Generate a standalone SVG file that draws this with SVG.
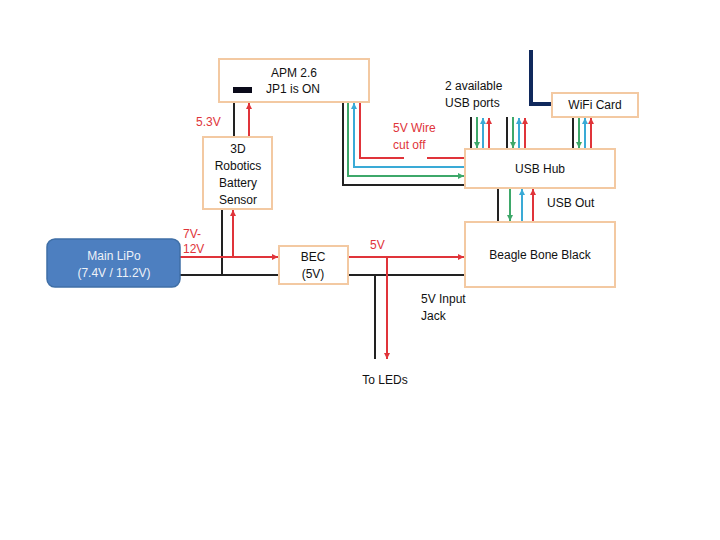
<svg xmlns="http://www.w3.org/2000/svg" width="720" height="540" viewBox="0 0 720 540">
<style>
.box{fill:#ffffff;stroke:#f3c9a2;stroke-width:2}
.t{font-family:"Liberation Sans",Arial,sans-serif;font-size:12px;fill:#111}
.r{font-family:"Liberation Sans",Arial,sans-serif;font-size:12px;fill:#e0343a}
.c{text-anchor:middle}
.k{stroke:#222;stroke-width:2;fill:none}
.rd{stroke:#e0343a;stroke-width:2;fill:none}
.gr{stroke:#3ea86a;stroke-width:2;fill:none}
.bl{stroke:#3aaad6;stroke-width:2;fill:none}
</style>
<defs>
<marker id="ar" viewBox="0 0 10 10" refX="10" refY="5" markerWidth="3" markerHeight="3" orient="auto"><path d="M0,0L10,5L0,10z" fill="#e0343a"/></marker>
<marker id="ag" viewBox="0 0 10 10" refX="10" refY="5" markerWidth="3" markerHeight="3" orient="auto"><path d="M0,0L10,5L0,10z" fill="#3ea86a"/></marker>
<marker id="ab" viewBox="0 0 10 10" refX="10" refY="5" markerWidth="3" markerHeight="3" orient="auto"><path d="M0,0L10,5L0,10z" fill="#3aaad6"/></marker>
</defs>
<rect width="720" height="540" fill="#ffffff"/>

<g id="connectors">
<path class="k" d="M234,102V137"/>
<path class="rd" d="M249,137V103" marker-end="url(#ar)"/>
<path class="k" d="M222,209V275"/>
<path class="rd" d="M233,257V210" marker-end="url(#ar)"/>
<path class="rd" d="M180,257H278" marker-end="url(#ar)"/>
<path class="k" d="M180,275H279"/>
<path class="rd" d="M348,257H464" marker-end="url(#ar)"/>
<path class="k" d="M348,275H465"/>
<path class="rd" d="M387,257V359" marker-end="url(#ar)"/>
<path class="k" d="M375,275V359"/>
<path class="k" d="M343,102V185H465"/>
<path class="gr" d="M348,102V176H464" marker-end="url(#ag)"/>
<path class="bl" d="M465,167H354V103" marker-end="url(#ab)"/>
<path class="rd" d="M360,102V158H404M427,158H465"/>
<path class="k" d="M471,117V149"/>
<path class="gr" d="M477,117V148" marker-end="url(#ag)"/>
<path class="bl" d="M483,149V118" marker-end="url(#ab)"/>
<path class="rd" d="M489,149V118" marker-end="url(#ar)"/>
<path class="k" d="M507,117V149"/>
<path class="gr" d="M513,117V148" marker-end="url(#ag)"/>
<path class="bl" d="M519,149V118" marker-end="url(#ab)"/>
<path class="rd" d="M525,149V118" marker-end="url(#ar)"/>
<path class="k" d="M573,117V149"/>
<path class="gr" d="M579,117V148" marker-end="url(#ag)"/>
<path class="bl" d="M585,149V118" marker-end="url(#ab)"/>
<path class="rd" d="M591,149V118" marker-end="url(#ar)"/>
<path class="k" d="M498,188V222"/>
<path class="gr" d="M510,188V221" marker-end="url(#ag)"/>
<path class="bl" d="M522,222V189" marker-end="url(#ab)"/>
<path class="rd" d="M533,222V189" marker-end="url(#ar)"/>
<path d="M531,50V104H552" fill="none" stroke="#10295c" stroke-width="4"/>
</g>

<g id="apm">
<rect class="box" x="219" y="59" width="150" height="43"/>
<rect x="233" y="87" width="19" height="6" fill="#0a0a1a"/>
<text class="t c" x="294" y="77">APM 2.6</text>
<text class="t c" x="293" y="93">JP1 is ON</text>
</g>

<g id="sensor">
<rect class="box" x="203" y="137" width="69" height="72"/>
<text class="t c" x="238" y="153">3D</text>
<text class="t c" x="238" y="170">Robotics</text>
<text class="t c" x="238" y="187">Battery</text>
<text class="t c" x="238" y="204">Sensor</text>
</g>

<g id="lipo">
<rect x="47" y="239" width="133" height="48" rx="8" fill="#4d7fc0" stroke="#3f6fa6" stroke-width="1.5"/>
<text class="t c" x="114" y="260" style="fill:#eef2f8">Main LiPo</text>
<text class="t c" x="114" y="277" style="fill:#eef2f8">(7.4V / 11.2V)</text>
</g>

<g id="bec">
<rect class="box" x="279" y="246" width="69" height="38"/>
<text class="t c" x="313" y="261">BEC</text>
<text class="t c" x="313" y="278">(5V)</text>
</g>

<g id="bbb">
<rect class="box" x="465" y="222" width="150" height="65"/>
<text class="t c" x="540" y="259">Beagle Bone Black</text>
</g>

<g id="usbhub">
<rect class="box" x="465" y="149" width="150" height="39"/>
<text class="t c" x="540" y="173">USB Hub</text>
</g>

<g id="wifi">
<rect class="box" x="552" y="93" width="86" height="24"/>
<text class="t c" x="595" y="109">WiFi Card</text>
</g>

<g id="labels">
<text class="r" x="196" y="126">5.3V</text>
<text class="r" x="183" y="238">7V-</text>
<text class="r" x="183" y="253">12V</text>
<text class="r" x="370" y="249">5V</text>
<text class="r" x="393" y="132">5V Wire</text>
<text class="r" x="393" y="149">cut off</text>
<text class="t" x="445" y="90">2 available</text>
<text class="t" x="445" y="107">USB ports</text>
<text class="t" x="547" y="207">USB Out</text>
<text class="t" x="421" y="303">5V Input</text>
<text class="t" x="421" y="320">Jack</text>
<text class="t c" x="385" y="384">To LEDs</text>
</g>
</svg>
